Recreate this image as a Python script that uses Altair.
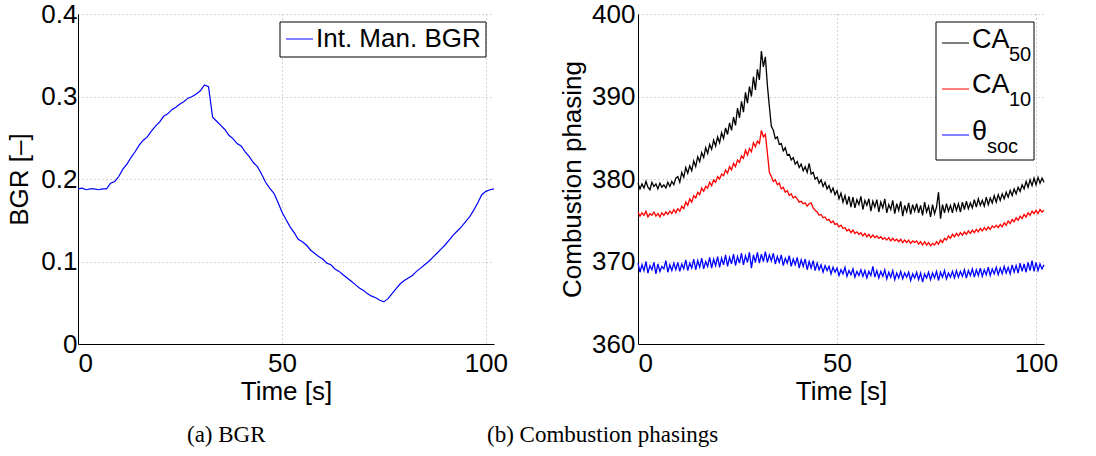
import altair as alt
import pandas as pd

# ---------------- data ----------------
t_bgr = list(range(103))
bgr = [0.188, 0.189, 0.187, 0.188, 0.188, 0.187, 0.188, 0.188,
       0.195, 0.197, 0.203, 0.212, 0.218, 0.226, 0.233, 0.241, 0.247, 0.251, 0.258, 0.264,
       0.269, 0.276, 0.279, 0.284, 0.287, 0.291, 0.294, 0.298, 0.300, 0.303,
       0.307, 0.314, 0.312, 0.275, 0.270, 0.265, 0.260, 0.253, 0.249, 0.243,
       0.240, 0.233, 0.227, 0.220, 0.215, 0.206, 0.196, 0.189, 0.183, 0.172,
       0.160, 0.151, 0.142, 0.135, 0.127, 0.124, 0.120, 0.114, 0.110, 0.106,
       0.103, 0.098, 0.096, 0.091, 0.088, 0.084, 0.080, 0.076, 0.072, 0.068,
       0.065, 0.061, 0.058, 0.056, 0.053, 0.051, 0.055, 0.061, 0.067, 0.073,
       0.077, 0.080, 0.083, 0.088, 0.092, 0.096, 0.100, 0.105, 0.110, 0.115,
       0.120, 0.126, 0.132, 0.137, 0.142, 0.148, 0.154, 0.162, 0.171, 0.181,
       0.185, 0.187, 0.188]

t_cp = [i * 0.5 for i in range(205)]

ca50 = [379.5, 378.8, 379.4, 378.9, 379.7, 379.0, 378.7, 379.6, 379.1, 379.4,
        378.8, 379.5, 379.0, 379.3, 378.9, 379.6, 379.1, 379.7, 379.3, 380.1,
        380.3, 379.6, 380.8, 380.2, 381.4, 380.7, 381.6, 381.0, 382.2, 381.5,
        382.7, 382.1, 383.2, 382.6, 383.8, 383.1, 384.2, 383.6, 384.7, 384.0,
        385.1, 384.4, 385.6, 384.9, 386.2, 385.4, 386.8, 385.9, 387.5, 386.5,
        388.6, 387.4, 389.4, 388.1, 390.5, 389.2, 391.2, 390.0, 392.4, 390.8,
        393.3, 392.0, 395.5, 393.6, 394.8, 391.4, 388.8, 386.4, 385.9, 384.9,
        385.1, 384.2, 384.3, 383.4, 383.8, 382.9, 383.0, 382.3, 382.6, 381.8,
        382.1, 381.4, 381.8, 381.0, 381.5, 380.8, 381.9, 380.6, 380.8, 380.0,
        380.2, 379.5, 379.9, 379.1, 379.6, 378.8, 379.2, 378.4, 378.9, 378.1,
        378.6, 377.6, 378.3, 377.2, 378.0, 376.9, 377.9, 376.6, 377.8, 376.5,
        377.5, 376.9, 377.9, 376.3, 377.4, 376.8, 377.6, 376.1, 377.3, 376.6,
        377.5, 376.0, 377.2, 376.5, 377.6, 375.9, 376.9, 376.3, 377.4, 375.8,
        377.0, 376.2, 377.3, 375.5, 376.8, 376.0, 377.1, 375.7, 376.9, 376.1,
        377.0, 375.9, 376.8, 375.6, 377.2, 376.0, 376.7, 375.4, 376.9, 375.8,
        376.6, 378.4, 375.2, 376.9, 375.9, 377.0, 376.1, 376.8, 375.9, 377.1,
        376.2, 377.0, 376.0, 377.2, 376.3, 377.3, 376.4, 377.1, 376.5, 377.5,
        376.6, 377.6, 376.8, 377.4, 376.7, 377.8, 376.9, 377.7, 377.1, 378.0,
        377.2, 378.1, 377.4, 378.2, 377.6, 378.4, 377.8, 378.6, 378.0, 378.8,
        378.2, 379.0, 378.5, 379.3, 378.8, 379.7, 379.0, 379.9, 379.2, 380.1,
        379.3, 380.2, 379.5, 380.1, 379.6]

ca10 = [376.0, 375.5, 375.9, 375.6, 376.1, 375.4, 375.8, 375.6, 376.0, 375.5,
        375.8, 375.4, 375.9, 375.6, 376.0, 375.7, 376.1, 375.8, 376.3, 375.9,
        376.4, 376.1, 376.7, 376.4, 377.2, 376.8, 377.6, 377.2, 378.0, 377.7,
        378.4, 378.1, 378.9, 378.5, 379.1, 378.9, 379.6, 379.2, 379.9, 379.6,
        380.3, 380.0, 380.6, 380.4, 381.1, 380.7, 381.5, 381.1, 381.9, 381.5,
        382.3, 382.0, 382.8, 382.5, 383.5, 382.9, 383.7, 383.3, 384.4, 383.9,
        384.6, 384.3, 385.9, 385.1, 385.4, 383.2, 380.8, 380.3, 379.7, 379.9,
        379.3, 379.5, 378.8, 379.0, 378.4, 378.6, 378.0, 378.2, 377.7, 377.9,
        377.6, 377.2, 377.3, 377.0, 377.1, 376.7, 377.0, 377.1, 376.5, 376.2,
        376.0, 375.6, 375.7, 375.3, 375.4, 375.0, 375.1, 374.7, 374.9, 374.5,
        374.6, 374.2, 374.4, 374.0, 374.1, 373.7, 373.9, 373.5, 373.8, 373.4,
        373.6, 373.3, 373.5, 373.1, 373.4, 373.0, 373.3, 372.9, 373.2, 372.9,
        373.1, 372.8, 373.0, 372.7, 372.9, 372.6, 372.9, 372.5, 372.8, 372.5,
        372.7, 372.4, 372.7, 372.3, 372.6, 372.3, 372.6, 372.2, 372.5, 372.3,
        372.5, 372.1, 372.4, 372.0, 372.4, 372.0, 372.3, 371.9, 372.2, 372.0,
        372.4, 372.1, 372.6, 372.3, 372.8, 372.6, 373.1, 372.8, 373.3, 373.0,
        373.4, 373.1, 373.5, 373.2, 373.6, 373.3, 373.7, 373.4, 373.8, 373.5,
        373.9, 373.6, 374.0, 373.7, 374.1, 373.8, 374.2, 373.9, 374.3, 374.1,
        374.4, 374.1, 374.5, 374.2, 374.7, 374.4, 374.9, 374.6, 375.1, 374.8,
        375.3, 375.0, 375.5, 375.2, 375.7, 375.4, 375.9, 375.6, 376.1, 375.8,
        376.2, 375.8, 376.3, 376.0, 376.2]

theta_soc = [369.8, 368.7, 369.6, 368.9, 370.0, 368.6, 369.5, 369.0, 369.9, 368.5,
             369.7, 368.8, 369.4, 369.1, 370.1, 368.7, 369.6, 368.9, 369.8, 369.0,
             369.9, 368.8, 369.7, 369.1, 370.2, 368.9, 369.8, 369.2, 370.3, 369.0,
             370.1, 369.3, 370.4, 369.1, 370.0, 369.4, 370.5, 369.2, 370.3, 369.5,
             370.6, 369.3, 370.4, 369.6, 370.8, 369.4, 370.5, 369.7, 370.9, 369.5,
             370.6, 369.8, 371.0, 369.6, 370.7, 369.9, 371.1, 369.2, 370.8, 369.9,
             371.1, 369.8, 370.9, 370.0, 371.2, 369.9, 370.8, 370.1, 371.0, 369.7,
             370.6, 369.9, 370.8, 369.5, 370.4, 369.8, 370.7, 369.4, 370.3, 369.6,
             370.5, 369.2, 370.2, 369.4, 370.3, 369.0, 370.0, 369.2, 370.1, 368.9,
             369.8, 369.0, 369.6, 368.7, 369.5, 368.9, 369.4, 368.5, 369.3, 368.7,
             369.2, 368.3, 369.0, 368.5, 369.3, 368.2, 368.9, 368.4, 369.1, 368.1,
             368.8, 368.3, 369.0, 368.2, 368.9, 368.0, 368.8, 368.3, 369.4, 368.1,
             368.9, 368.0, 368.8, 368.2, 369.0, 367.9, 368.7, 368.1, 368.9, 367.8,
             368.6, 368.0, 368.8, 367.9, 368.6, 368.1, 368.7, 367.7, 368.5, 368.0,
             368.7, 367.8, 368.6, 367.5, 368.5, 368.0, 368.7, 367.8, 368.6, 368.0,
             368.8, 367.7, 368.7, 368.1, 368.9, 367.9, 368.6, 368.1, 368.8, 368.0,
             368.9, 368.1, 368.8, 368.2, 369.0, 368.0, 368.9, 368.3, 369.1, 368.1,
             369.0, 368.3, 369.2, 368.2, 369.0, 368.4, 369.3, 368.3, 369.1, 368.5,
             369.3, 368.4, 369.2, 368.5, 369.4, 368.6, 369.3, 368.5, 369.6, 368.7,
             369.5, 368.6, 369.8, 368.8, 369.7, 368.7, 369.9, 368.9, 370.1, 368.8,
             369.9, 368.9, 369.7, 369.1, 369.6]

series_names = ["CA50", "CA10", "theta_soc"]
series_colors = ["#000000", "#ff0000", "#0000ff"]
x_ticks = [0, 50, 100]
bgr_ticks = [0, 0.1, 0.2, 0.3, 0.4]
cp_ticks = [360, 370, 380, 390, 400]
legend_main = ["CA", "CA", "θ"]
legend_sub = ["50", "10", "soc"]

# ---------------- frames ----------------
df_bgr = pd.DataFrame({"t": t_bgr, "bgr": bgr})
rows = []
for name, vals in zip(series_names, [ca50, ca10, theta_soc]):
    for tt, v in zip(t_cp, vals):
        rows.append({"t": tt, "v": v, "s": name})
df_cp = pd.DataFrame(rows)

W1, W2, H = 416, 406, 330
SANS = "Liberation Sans"
SERIF = "Liberation Serif"

xaxis = alt.Axis(values=x_ticks, title="Time [s]", labelPadding=6, titlePadding=2)
xscale = alt.Scale(domain=[0, 102], nice=False)

# ---------------- left panel ----------------
line_bgr = alt.Chart(df_bgr).mark_line(color="#0000ff", strokeWidth=1.2).encode(
    x=alt.X("t:Q", scale=xscale, axis=xaxis),
    y=alt.Y("bgr:Q", scale=alt.Scale(domain=[0, 0.4], nice=False),
            axis=alt.Axis(values=bgr_ticks, title="BGR [–]",
                          labelExpr="datum.value == 0 ? '0' : format(datum.value, '.1f')",
                          labelPadding=1, titlePadding=8)),
)
legL_df = pd.DataFrame({"label": ["Int. Man. BGR"]})
legL_box = alt.Chart(legL_df).mark_rect(fill="white", stroke="black", strokeWidth=1).encode(
    x=alt.value(202), x2=alt.value(408), y=alt.value(8), y2=alt.value(43))
legL_line = alt.Chart(legL_df).mark_rule(color="#0000ff", strokeWidth=1).encode(
    x=alt.value(208), x2=alt.value(235), y=alt.value(25))
legL_text = alt.Chart(legL_df).mark_text(align="left", baseline="middle", fontSize=26,
                                         font=SANS, color="black").encode(
    x=alt.value(238), y=alt.value(25), text="label:N")

left = alt.layer(line_bgr, legL_box, legL_line, legL_text).properties(
    width=W1, height=H,
    title=alt.TitleParams("(a) BGR", orient="bottom", anchor="start", frame="group",
                          dx=109, offset=20, font=SERIF, fontSize=23,
                          fontWeight="normal", color="black"))

# ---------------- right panel ----------------
line_cp = alt.Chart(df_cp).mark_line(strokeWidth=1.3).encode(
    x=alt.X("t:Q", scale=xscale, axis=xaxis),
    y=alt.Y("v:Q", scale=alt.Scale(domain=[360, 400], nice=False),
            axis=alt.Axis(values=cp_ticks, title="Combustion phasing",
                          labelPadding=3, titlePadding=6)),
    color=alt.Color("s:N", scale=alt.Scale(domain=series_names, range=series_colors),
                    legend=None),
    detail="s:N",
)
legR_df = pd.DataFrame({"main": legend_main, "sub": legend_sub,
                        "color": series_colors,
                        "ly": [29, 75, 121], "my": [26, 71, 118], "sy": [41, 86, 133],
                        "sx": [371, 371, 349]})
legR_box = alt.Chart(pd.DataFrame({"a": [1]})).mark_rect(
    fill="white", stroke="black", strokeWidth=1).encode(
    x=alt.value(298), x2=alt.value(396), y=alt.value(8), y2=alt.value(146))
legR_lines = alt.Chart(legR_df).mark_rule(strokeWidth=1).encode(
    x=alt.value(304), x2=alt.value(331),
    y=alt.Y("ly:Q", scale=None), color=alt.Color("color:N", scale=None))
legR_main = alt.Chart(legR_df).mark_text(align="left", baseline="middle", fontSize=27,
                                         font=SANS, color="black").encode(
    x=alt.value(334), y=alt.Y("my:Q", scale=None), text="main:N")
legR_sub = alt.Chart(legR_df).mark_text(align="left", baseline="middle", fontSize=20,
                                        font=SANS, color="black").encode(
    x=alt.X("sx:Q", scale=None), y=alt.Y("sy:Q", scale=None), text="sub:N")

right = alt.layer(line_cp, legR_box, legR_lines, legR_main, legR_sub).properties(
    width=W2, height=H,
    title=alt.TitleParams("(b) Combustion phasings", orient="bottom", anchor="start",
                          frame="group", dx=-151, offset=20, font=SERIF, fontSize=23,
                          fontWeight="normal", color="black"))

chart = alt.hconcat(left, right, spacing=144, bounds="flush").properties(
    padding={"left": 6, "top": 1, "right": 0, "bottom": 0}
).configure(font=SANS).configure_view(stroke=None).configure_axis(
    domainColor="black", domainWidth=1, ticks=False,
    grid=True, gridColor="#a8a8a8", gridDash=[1, 3], gridWidth=1,
    labelFont=SANS, labelFontSize=26, labelColor="black",
    titleFont=SANS, titleFontSize=26, titleFontWeight="normal", titleColor="black",
).configure_axisY(labelAlign="right")

chart.save("out.html", embed_options={"renderer": "svg", "actions": False})
